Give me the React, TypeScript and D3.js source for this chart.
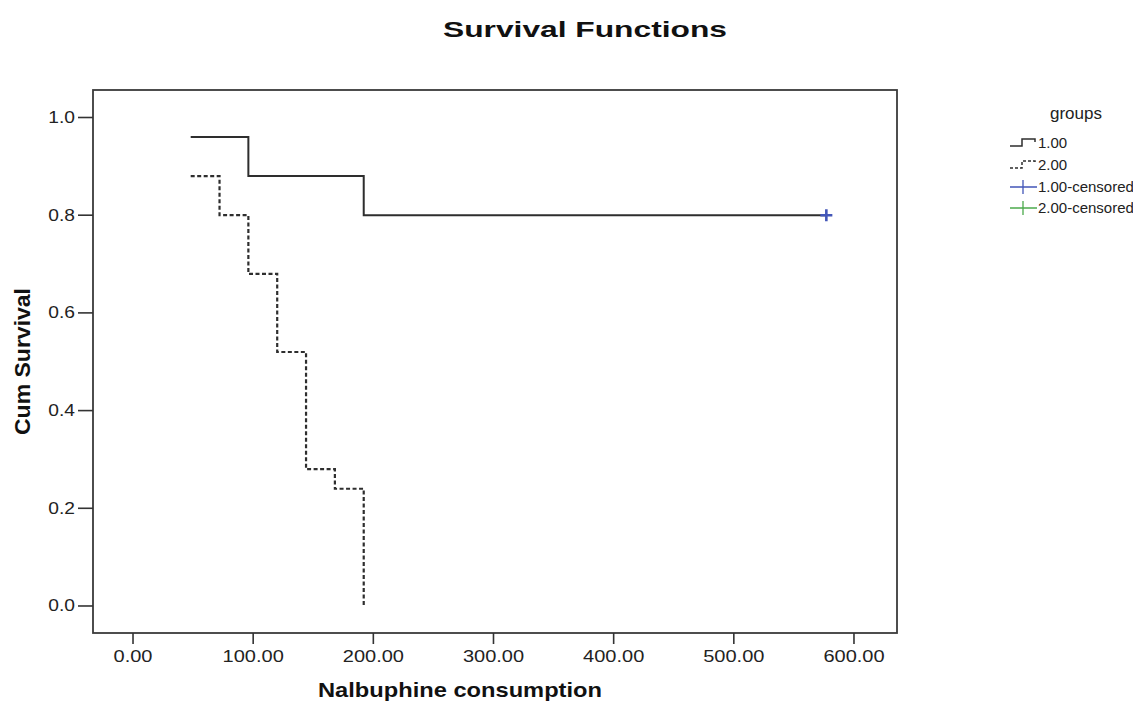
import * as d3 from 'd3'
import { useEffect, useRef } from 'react'

// Kaplan-Meier steps (time, cumulative survival)
const group1Times = [48, 96, 192, 577]
const group1Surv = [0.96, 0.88, 0.8, 0.8]
const group2Times = [48, 72, 96, 120, 144, 168, 192]
const group2Surv = [0.88, 0.8, 0.68, 0.52, 0.28, 0.24, 0.0]
const censoredTimes = [577]
const censoredSurv = [0.8]

const xTicks = [0, 100, 200, 300, 400, 500, 600]
const yTicks = [0, 0.2, 0.4, 0.6, 0.8, 1.0]
const legendLabels = ['1.00', '2.00', '1.00-censored', '2.00-censored']

const W = 1133
const H = 704
const FONT = '"Liberation Sans", Arial, sans-serif'
const BLUE = '#4356b8'
const GREEN = '#4caa4c'
const INK = '#2e2e2e'

export default function App() {
  const ref = useRef<SVGSVGElement | null>(null)

  useEffect(() => {
    const svg = d3.select(ref.current)
    svg.selectAll('*').remove()

    const left = 93, right = 897, top = 90, bottom = 633

    const x = d3.scaleLinear().domain([-33.3, 635.8]).range([left, right])
    const y = d3.scaleLinear().domain([-0.0553, 1.0563]).range([bottom, top])

    svg.append('rect').attr('width', W).attr('height', H).attr('fill', '#fff')

    // title
    svg.append('text')
      .attr('x', 585).attr('y', 37)
      .attr('text-anchor', 'middle')
      .attr('font-family', FONT).attr('font-weight', 'bold').attr('font-size', 22)
      .attr('textLength', 284).attr('lengthAdjust', 'spacingAndGlyphs')
      .attr('fill', '#111')
      .text('Survival Functions')

    // frame
    svg.append('rect')
      .attr('x', left).attr('y', top)
      .attr('width', right - left).attr('height', bottom - top)
      .attr('fill', 'none').attr('stroke', '#3a3a3a').attr('stroke-width', 1.8)

    // y axis ticks (labels a bit wide, like the stretched original)
    const yg = svg.append('g')
    yTicks.forEach(t => {
      yg.append('line')
        .attr('x1', left - 15).attr('x2', left)
        .attr('y1', y(t)).attr('y2', y(t))
        .attr('stroke', '#333').attr('stroke-width', 1.6)
      yg.append('text')
        .attr('transform', `translate(${left - 18},${y(t) + 5.5}) scale(1.2,1)`)
        .attr('text-anchor', 'end')
        .attr('font-family', FONT).attr('font-size', 16).attr('fill', '#222')
        .text(d3.format('.1f')(t))
    })

    // x axis ticks
    const xg = svg.append('g')
    xTicks.forEach(t => {
      xg.append('line')
        .attr('x1', x(t)).attr('x2', x(t))
        .attr('y1', bottom).attr('y2', bottom + 11)
        .attr('stroke', '#333').attr('stroke-width', 1.6)
      xg.append('text')
        .attr('transform', `translate(${x(t)},${bottom + 29}) scale(1.25,1)`)
        .attr('text-anchor', 'middle')
        .attr('font-family', FONT).attr('font-size', 16).attr('fill', '#222')
        .text(d3.format('.2f')(t))
    })

    // axis titles
    svg.append('text')
      .attr('x', 460).attr('y', 697)
      .attr('text-anchor', 'middle')
      .attr('font-family', FONT).attr('font-weight', 'bold').attr('font-size', 21)
      .attr('textLength', 284).attr('lengthAdjust', 'spacingAndGlyphs')
      .attr('fill', '#111')
      .text('Nalbuphine consumption')

    svg.append('text')
      .attr('transform', `translate(30,${(top + bottom) / 2}) rotate(-90)`)
      .attr('text-anchor', 'middle')
      .attr('font-family', FONT).attr('font-weight', 'bold').attr('font-size', 22)
      .attr('textLength', 147).attr('lengthAdjust', 'spacingAndGlyphs')
      .attr('fill', '#111')
      .text('Cum Survival')

    // survival curves
    const step = d3.line<[number, number]>()
      .x(d => x(d[0]))
      .y(d => y(d[1]))
      .curve(d3.curveStepAfter)

    const g1 = group1Times.map((t, i) => [t, group1Surv[i]] as [number, number])
    const g2 = group2Times.map((t, i) => [t, group2Surv[i]] as [number, number])

    svg.append('path')
      .attr('d', step(g1))
      .attr('fill', 'none').attr('stroke', INK).attr('stroke-width', 2)

    svg.append('path')
      .attr('d', step(g2))
      .attr('fill', 'none').attr('stroke', INK).attr('stroke-width', 2.2)
      .attr('stroke-dasharray', '4,2.5')

    // censored marks (group 1 only)
    censoredTimes.forEach((t, i) => {
      const cx = x(t), cy = y(censoredSurv[i])
      svg.append('path')
        .attr('d', `M${cx - 6},${cy}H${cx + 6}M${cx},${cy - 6}V${cy + 6}`)
        .attr('stroke', BLUE).attr('stroke-width', 2.6)
    })

    // legend
    const lg = svg.append('g').attr('font-family', FONT).attr('font-size', 15).attr('fill', '#222')
    lg.append('text').attr('x', 1076).attr('y', 119).attr('text-anchor', 'middle')
      .attr('font-size', 17).text('groups')

    const rowY = [143, 165, 187, 208]
    const sx = 1010
    legendLabels.forEach((lab, i) => {
      const ry = rowY[i]
      if (i < 2) {
        lg.append('path')
          .attr('d', `M${sx},${ry + 3}H${sx + 12}V${ry - 4}H${sx + 25}V${ry - 1}`)
          .attr('fill', 'none').attr('stroke', INK).attr('stroke-width', 1.5)
          .attr('stroke-dasharray', i === 1 ? '3,2' : null)
      } else {
        const col = i === 2 ? BLUE : GREEN
        lg.append('path')
          .attr('d', `M${sx},${ry}H${sx + 27}M${sx + 13},${ry - 7}V${ry + 7}`)
          .attr('fill', 'none').attr('stroke', col).attr('stroke-width', 1.3)
      }
      lg.append('text').attr('x', sx + 28).attr('y', ry + 5).text(lab)
    })
  }, [])

  return (
    <div style={{ position: 'fixed', left: 0, top: 0 }}>
      <svg ref={ref} width={W} height={H} style={{ display: 'block' }} />
    </div>
  )
}
